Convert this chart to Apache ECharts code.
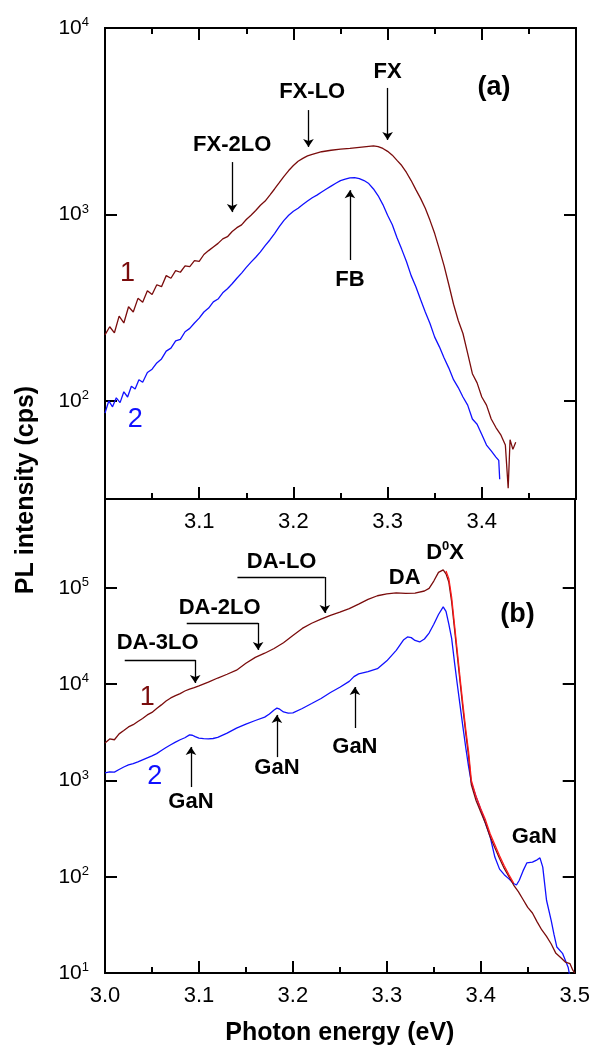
<!DOCTYPE html>
<html>
<head>
<meta charset="utf-8">
<title>PL spectra</title>
<script src="https://cdn.jsdelivr.net/npm/echarts@6/dist/echarts.min.js"></script>
<style>html,body{margin:0;padding:0;background:#fff;}</style>
</head>
<body>
<div id="main" style="width:593px;height:1050px;"></div>
<script>
// panel (a): [photon energy (eV), PL intensity (cps)]
var a1 = [[3.000,226],[3.005,250],[3.010,232],[3.015,285],[3.020,262],[3.025,320],[3.030,300],[3.035,355],[3.040,338],[3.045,390],
  [3.050,372],[3.055,420],[3.060,410],[3.065,470],[3.070,455],[3.075,500],[3.080,490],[3.085,530],[3.090,525],[3.095,565],
  [3.100,560],[3.105,610],[3.110,640],[3.115,670],[3.120,700],[3.125,740],[3.130,760],[3.135,810],[3.140,850],[3.145,880],
  [3.150,940],[3.155,990],[3.160,1050],[3.165,1120],[3.170,1180],[3.175,1270],[3.180,1370],[3.185,1480],[3.190,1600],[3.195,1720],
  [3.200,1830],[3.205,1930],[3.210,2000],[3.215,2060],[3.220,2100],[3.230,2170],[3.240,2210],[3.250,2240],[3.260,2260],[3.270,2290],
  [3.280,2320],[3.285,2330],[3.290,2310],[3.295,2260],[3.300,2180],[3.305,2080],[3.310,1950],[3.315,1830],[3.320,1680],[3.325,1520],
  [3.330,1360],[3.335,1220],[3.340,1080],[3.345,930],[3.350,790],[3.355,650],[3.360,530],[3.365,420],[3.370,330],[3.375,270],
  [3.380,230],[3.385,180],[3.390,140],[3.395,125],[3.400,105],[3.405,95],[3.410,80],[3.415,72],[3.420,66],[3.425,58],
  [3.428,34],[3.430,62],[3.433,55],[3.436,60]];
var a2 = [[3.000,86],[3.004,100],[3.008,93],[3.012,104],[3.016,98],[3.020,112],[3.024,105],[3.028,120],[3.032,116],[3.036,130],
  [3.040,126],[3.045,142],[3.050,148],[3.055,160],[3.060,168],[3.065,185],[3.070,192],[3.075,210],[3.080,214],[3.085,235],
  [3.090,245],[3.095,262],[3.100,278],[3.105,300],[3.110,315],[3.115,340],[3.120,352],[3.125,380],[3.130,400],[3.135,425],
  [3.140,455],[3.145,485],[3.150,520],[3.155,555],[3.160,590],[3.165,630],[3.170,680],[3.175,730],[3.180,790],[3.185,860],
  [3.190,930],[3.195,990],[3.200,1040],[3.205,1080],[3.210,1130],[3.215,1180],[3.220,1230],[3.225,1270],[3.230,1320],[3.235,1370],
  [3.240,1420],[3.245,1470],[3.250,1520],[3.255,1545],[3.260,1570],[3.265,1575],[3.270,1555],[3.275,1520],[3.280,1465],[3.285,1370],
  [3.290,1260],[3.295,1130],[3.300,990],[3.305,880],[3.310,750],[3.315,650],[3.320,560],[3.325,470],[3.330,410],[3.335,350],
  [3.340,300],[3.345,260],[3.350,220],[3.355,195],[3.360,170],[3.365,150],[3.370,130],[3.375,118],[3.380,105],[3.385,95],
  [3.390,80],[3.395,75],[3.400,66],[3.405,58],[3.410,54],[3.415,50],[3.418,48],[3.419,38]];

// panel (b)
var b1 = [[3.000,2450],[3.005,2700],[3.010,2650],[3.015,3050],[3.020,3300],[3.025,3600],[3.030,3800],[3.035,4100],[3.040,4400],[3.045,4800],
  [3.050,5100],[3.055,5600],[3.060,6100],[3.065,6700],[3.070,7200],[3.075,7600],[3.080,8000],[3.085,8500],[3.090,8900],[3.095,9200],
  [3.100,9600],[3.110,10500],[3.120,11600],[3.130,12700],[3.140,14000],[3.150,16500],[3.160,19000],[3.170,21000],[3.180,23500],[3.190,27000],
  [3.200,32000],[3.210,38000],[3.220,43000],[3.230,47500],[3.240,52000],[3.250,56000],[3.260,61000],[3.270,68000],[3.280,76000],[3.290,83000],
  [3.300,87000],[3.310,89000],[3.320,88000],[3.330,88500],[3.340,93000],[3.345,99000],[3.350,118000],[3.355,145000],[3.360,154000],[3.363,140000],
  [3.366,115000],[3.369,72000],[3.372,38000],[3.375,20000],[3.378,10500],[3.381,5600],[3.384,3100],[3.387,1800],[3.390,900],[3.395,620],
  [3.400,470],[3.405,360],[3.410,260],[3.415,200],[3.420,155],[3.425,122],[3.430,100],[3.435,82],[3.440,70],[3.445,58],
  [3.450,48],[3.455,42],[3.460,34],[3.465,28],[3.470,24],[3.475,20],[3.480,16],[3.485,14.5],[3.490,13],[3.495,12.5],
  [3.498,10.7],[3.500,10]];
var b1red = [[3.363,150000],[3.366,125000],[3.369,80000],[3.372,42000],[3.375,22000],[3.378,11500],[3.381,6200],[3.384,3400],[3.387,2000],
  [3.390,1000],[3.395,680],[3.400,510],[3.405,390],[3.410,280],[3.415,215],[3.420,165],[3.425,130],[3.430,105],[3.435,86]];
var b2 = [[3.000,1200],[3.005,1230],[3.010,1220],[3.015,1300],[3.020,1380],[3.025,1450],[3.030,1500],[3.035,1560],[3.040,1640],[3.045,1720],
  [3.050,1800],[3.055,1900],[3.060,2050],[3.065,2200],[3.070,2350],[3.075,2500],[3.080,2650],[3.085,2780],[3.090,2980],[3.093,2950],
  [3.096,2850],[3.100,2760],[3.105,2720],[3.110,2700],[3.115,2730],[3.120,2800],[3.130,3100],[3.140,3500],[3.150,3850],[3.160,4200],
  [3.170,4550],[3.175,4900],[3.180,5400],[3.183,5650],[3.186,5500],[3.190,5150],[3.195,5000],[3.200,5050],[3.210,5600],[3.220,6300],
  [3.230,7100],[3.240,8200],[3.250,9300],[3.260,10700],[3.265,12000],[3.270,12800],[3.280,13500],[3.290,14500],[3.300,17500],[3.310,22500],
  [3.318,29000],[3.322,31000],[3.326,30500],[3.330,28500],[3.335,27500],[3.340,29500],[3.345,34000],[3.350,42000],[3.355,53000],[3.360,63500],
  [3.363,57000],[3.366,42000],[3.369,30000],[3.372,17000],[3.375,10000],[3.378,6000],[3.381,3600],[3.384,2200],[3.387,1400],[3.390,950],
  [3.395,680],[3.400,500],[3.405,360],[3.410,260],[3.415,160],[3.420,120],[3.425,105],[3.430,95],[3.435,85],[3.438,82],
  [3.441,92],[3.445,115],[3.449,139],[3.455,142],[3.460,150],[3.463,157],[3.466,126],[3.470,57],[3.475,35],[3.478,25],
  [3.481,18.6],[3.487,16],[3.493,11.5],[3.496,8]];

// annotations [text, E, I] and arrows [E, from, to]
var aNotes = [['FX-2LO',3.135,2360],['FX-LO',3.220,4540],['FX',3.300,5810],['FB',3.260,446]];
var aArrows = [[3.135,1910,1030],[3.216,3630,2300],[3.300,4770,2510],[3.260,570,1350]];
var aTags = [['1',3.024,485],['2',3.032,79]];
var aPanel = ['(a)',3.413,4770];

var bNotes = [['DA-3LO',3.056,26800],['DA-2LO',3.122,62000],['DA-LO',3.188,186000],['DA',3.319,127000],
  ['D0X',3.362,231000],['GaN',3.0915,598],['GaN',3.183,1350],['GaN',3.266,2230],['GaN',3.457,259]];
// [E start, E end, I of bar, I of arrow tip]
var bBrackets = [[3.021,3.096,17900,10300],[3.087,3.163,43300,22700],[3.141,3.234,130000,55000]];
var bArrows = [[3.0915,855,2230],[3.183,1750,4800],[3.266,3510,9360]];
var bTags = [['1',3.045,7190],['2',3.053,1090]];
var bPanel = ['(b)',3.439,52400];

var FONT = '"Liberation Sans", Arial, sans-serif';
var DARK = '#7a0c0c', BLUE = '#1010ff', RED = '#ff1a1a';
var tagColors = [DARK, BLUE];

function powLabel(v) {
  var e = Math.log10(v), r = Math.round(e);
  if (Math.abs(e - r) > 1e-6) return '';
  return '{b|10}{s|' + r + '}';
}

// major ticks every 0.1 (with labels), minor ticks every 0.05 on a second axis
function xAxis(grid, pos, labels, fmt) {
  return {
    type: 'value', gridIndex: grid, position: pos, min: 3.0, max: 3.5, interval: 0.1,
    axisLine: {show: true, onZero: false, lineStyle: {color: '#000', width: 2}},
    axisTick: {show: true, inside: true, length: 12, lineStyle: {color: '#000', width: 2}},
    splitLine: {show: false},
    axisLabel: {show: labels, margin: 12, color: '#000', fontSize: 22, fontFamily: FONT, formatter: fmt}
  };
}
function xMinor(grid, pos) {
  return {
    type: 'value', gridIndex: grid, position: pos, min: 3.0, max: 3.5, interval: 0.05,
    axisLine: {show: true, onZero: false, lineStyle: {color: '#000', width: 2}},
    axisTick: {show: true, inside: true, length: 6, lineStyle: {color: '#000', width: 2}},
    splitLine: {show: false},
    axisLabel: {show: false}
  };
}

function yAxis(grid, pos, min, max, labels) {
  return {
    type: 'log', logBase: 10, gridIndex: grid, position: pos, min: min, max: max,
    axisLine: {show: true, onZero: false, lineStyle: {color: '#000', width: 2}},
    axisTick: {show: true, inside: true, length: 12, lineStyle: {color: '#000', width: 2}},
    splitLine: {show: false},
    axisLabel: {
      show: labels, margin: 16, formatter: powLabel,
      rich: {
        b: {fontSize: 21, fontFamily: FONT, color: '#000', lineHeight: 24},
        s: {fontSize: 13, fontFamily: FONT, color: '#000', verticalAlign: 'top', lineHeight: 13}
      }
    }
  };
}

function arrowLines(arrows) {
  return arrows.map(function (a) {
    return [{coord: [a[0], a[1]], symbol: 'none'}, {coord: [a[0], a[2]], symbol: 'arrow'}];
  });
}

function bracketLines(br) {
  var out = [];
  br.forEach(function (b) {
    out.push([{coord: [b[0], b[2]], symbol: 'none'}, {coord: [b[1], b[2]], symbol: 'none'}]);
    out.push([{coord: [b[1], b[2]], symbol: 'none'}, {coord: [b[1], b[3]], symbol: 'arrow'}]);
  });
  return out;
}

function markLineOf(data) {
  return {
    silent: true, animation: false, symbolSize: 8, precision: 6,
    label: {show: false},
    lineStyle: {color: '#000', width: 1.3, type: 'solid', opacity: 1},
    emphasis: {disabled: true},
    data: data
  };
}

function noteItems(notes, tags, panel) {
  var items = notes.map(function (n) {
    var txt = n[0] === 'D0X' ? '{m|D}{s|0}{m|X}' : n[0];
    return {value: [n[1], n[2]], label: {formatter: txt, fontSize: 22, fontWeight: 'bold', color: '#000'}};
  });
  tags.forEach(function (t, i) {
    items.push({value: [t[1], t[2]], label: {formatter: t[0], fontSize: 27, fontWeight: 'normal', color: tagColors[i]}});
  });
  items.push({value: [panel[1], panel[2]], label: {formatter: panel[0], fontSize: 27, fontWeight: 'bold', color: '#000'}});
  return items;
}

function labelSeries(xi, yi, items) {
  return {
    type: 'scatter', xAxisIndex: xi, yAxisIndex: yi, symbolSize: 0.1, silent: true,
    itemStyle: {color: '#000', opacity: 1},
    label: {
      show: true, position: 'inside', fontFamily: FONT, opacity: 1,
      textBorderWidth: 0,
      rich: {
        m: {fontSize: 22, fontWeight: 'bold', fontFamily: FONT, color: '#000', lineHeight: 26},
        s: {fontSize: 13, fontWeight: 'bold', fontFamily: FONT, color: '#000', verticalAlign: 'top', lineHeight: 13}
      }
    },
    emphasis: {disabled: true},
    data: items, z: 5
  };
}

function curve(xi, yi, data, color, extra) {
  var s = {
    type: 'line', xAxisIndex: xi, yAxisIndex: yi, data: data, showSymbol: false, symbol: 'none',
    lineStyle: {color: color, width: 1.3}, itemStyle: {color: color}, silent: true, animation: false
  };
  if (extra) for (var k in extra) s[k] = extra[k];
  return s;
}

var chart = echarts.init(document.getElementById('main'));
chart.setOption({
  animation: false,
  backgroundColor: '#fff',
  textStyle: {fontFamily: FONT},
  grid: [
    {left: 105, top: 28, width: 471, height: 471, containLabel: false},
    {left: 105, top: 499, width: 471, height: 474, containLabel: false}
  ],
  xAxis: [
    xAxis(0, 'top', false),
    xAxis(0, 'bottom', true, function (v) { return (v > 3.01 && v < 3.49) ? v.toFixed(1) : ''; }),
    (function () {
      var ax = xAxis(1, 'bottom', true, function (v) { return v.toFixed(1); });
      ax.name = 'Photon energy (eV)';
      ax.nameLocation = 'middle';
      ax.nameGap = 48;
      ax.nameTextStyle = {fontSize: 25, fontWeight: 'bold', color: '#000', fontFamily: FONT};
      return ax;
    })(),
    xMinor(0, 'top'),
    xMinor(0, 'bottom'),
    xMinor(1, 'bottom')
  ],
  yAxis: [
    yAxis(0, 'left', 29.8, 10000, true),
    yAxis(0, 'right', 29.8, 10000, false),
    yAxis(1, 'left', 10, 840000, true),
    yAxis(1, 'right', 10, 840000, false)
  ],
  graphic: [{
    type: 'text', x: 26, y: 490, rotation: Math.PI / 2, silent: true,
    style: {text: 'PL intensity (cps)', font: 'bold 25px ' + FONT, fill: '#000', align: 'center', verticalAlign: 'middle'}
  }],
  series: [
    curve(1, 0, a2, BLUE, {markLine: markLineOf(arrowLines(aArrows))}),
    curve(1, 0, a1, DARK),
    curve(2, 2, b2, BLUE, {markLine: markLineOf(arrowLines(bArrows).concat(bracketLines(bBrackets)))}),
    curve(2, 2, b1, DARK),
    curve(2, 2, b1red, RED),
    labelSeries(1, 0, noteItems(aNotes, aTags, aPanel)),
    labelSeries(2, 2, noteItems(bNotes, bTags, bPanel))
  ]
});
</script>
</body>
</html>
